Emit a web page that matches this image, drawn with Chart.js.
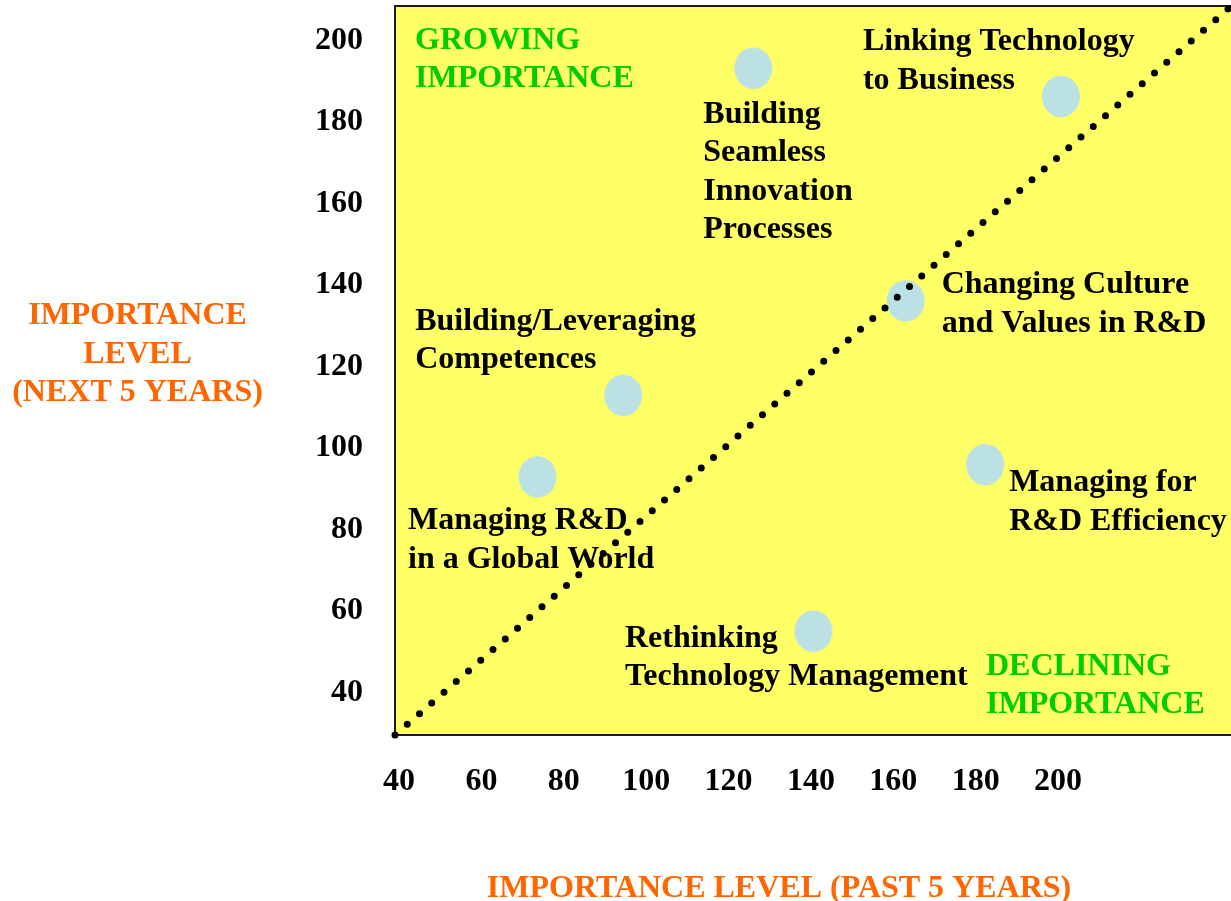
<!DOCTYPE html>
<html lang="en">
<head>
<meta charset="utf-8">
<title>Importance level</title>
<script src="https://cdn.jsdelivr.net/npm/chart.js@4.4.1/dist/chart.umd.min.js"></script>
<style>
    body { margin: 0; background: #ffffff; }
    canvas { display: block; }
</style>
</head>
<body>
<canvas id="graficoImportancia" width="1231" height="901"></canvas>
<script>
// dados
var temas = [
    ["Building", "Seamless", "Innovation", "Processes"],
    ["Linking Technology", "to Business"],
    ["Changing Culture", "and Values in R&D"],
    ["Building/Leveraging", "Competences"],
    ["Managing R&D", "in a Global World"],
    ["Managing for", "R&D Efficiency"],
    ["Rethinking", "Technology Management"]
];
var passado5 = [126.0, 200.7, 163.0, 94.4, 73.6, 182.3, 140.6];
var proximos5 = [193.2, 186.3, 136.1, 112.9, 92.9, 95.9, 55.0];
var ticksX = [40, 60, 80, 100, 120, 140, 160, 180, 200];
var ticksY = [40, 60, 80, 100, 120, 140, 160, 180, 200];
var limitesX = [39, 242];
var limitesY = [29.5, 208.5];
var diagonal = [[39, 29.5], [241.3, 207.8]];
var tituloX = "IMPORTANCE LEVEL (PAST 5 YEARS)";
var tituloY = ["IMPORTANCE", "LEVEL", "(NEXT 5 YEARS)"];
var zonaCrescente = ["GROWING", "IMPORTANCE"];
var zonaDecrescente = ["DECLINING", "IMPORTANCE"];

// onde fica cada rotulo em relacao ao seu ponto (px)
var deslocRotulos = [[-50, 54.5], [-198, -46], [36, -7.5], [-208, -65.5], [-129.5, 52.5], [24, 26.5], [-188.5, 15.5]];

var FONTE = "'Liberation Serif', 'Times New Roman', serif";
var ALTURA_LINHA = 38.5;

Chart.defaults.font.family = FONTE;

function criarElipse() {
    var c = document.createElement("canvas");
    c.width = 40;
    c.height = 44;
    var g = c.getContext("2d");
    g.fillStyle = "#BBE1E4";
    g.beginPath();
    g.ellipse(20, 22, 19, 20.8, 0, 0, Math.PI * 2);
    g.fill();
    return c;
}

function escreverLinhas(ctx, linhas, x, y) {
    for (var i = 0; i < linhas.length; i++) {
        ctx.fillText(linhas[i], x, y + i * ALTURA_LINHA);
    }
}

var pluginFundo = {
    id: "fundo",
    beforeDatasetsDraw: function (chart) {
        var a = chart.chartArea;
        var ctx = chart.ctx;
        ctx.save();
        ctx.fillStyle = "#FFFF66";
        ctx.fillRect(a.left, a.top, a.right - a.left, a.bottom - a.top);
        ctx.strokeStyle = "#1a1a1a";
        ctx.lineWidth = 2;
        ctx.beginPath();
        ctx.moveTo(a.right, a.top);
        ctx.lineTo(a.left, a.top);
        ctx.lineTo(a.left, a.bottom);
        ctx.lineTo(a.right, a.bottom);
        ctx.stroke();
        ctx.restore();
    }
};

var pluginTextos = {
    id: "textos",
    afterDatasetsDraw: function (chart) {
        var a = chart.chartArea;
        var ctx = chart.ctx;
        var pontos = chart.getDatasetMeta(1).data;
        ctx.save();
        ctx.font = "bold 32px " + FONTE;
        ctx.textBaseline = "alphabetic";
        ctx.textAlign = "left";

        ctx.fillStyle = "#000000";
        for (var i = 0; i < pontos.length; i++) {
            escreverLinhas(ctx, temas[i], pontos[i].x + deslocRotulos[i][0], pontos[i].y + deslocRotulos[i][1]);
        }

        ctx.fillStyle = "#00CC00";
        escreverLinhas(ctx, zonaCrescente, a.left + 20, a.top + 42.5);
        escreverLinhas(ctx, zonaDecrescente, a.right - 245, a.bottom - 60.5);

        ctx.fillStyle = "#FF6600";
        ctx.textAlign = "center";
        escreverLinhas(ctx, tituloY, 137.5, 324);
        ctx.fillText(tituloX, 779, 897);
        ctx.restore();
    }
};

function fixarEixo(tamanho) {
    return function (scale) {
        if (scale.isHorizontal()) {
            scale.height = tamanho;
        } else {
            scale.width = tamanho;
        }
        scale.paddingTop = 0;
        scale.paddingBottom = 0;
        scale.paddingLeft = 0;
        scale.paddingRight = 0;
    };
}

function plotarGrafico() {
    var ctx = document.getElementById("graficoImportancia").getContext("2d");

    var pontos = [];
    for (var i = 0; i < passado5.length; i++) {
        pontos.push({ x: passado5[i], y: proximos5[i] });
    }

    new Chart(ctx, {
        data: {
            datasets: [{
                type: "line",
                data: diagonal.map(function (p) { return { x: p[0], y: p[1] }; }),
                borderColor: "#000000",
                borderWidth: 7,
                borderDash: [0, 16.25],
                borderCapStyle: "round",
                pointRadius: 0,
                fill: false,
                clip: false
            }, {
                type: "scatter",
                data: pontos,
                pointStyle: criarElipse(),
                pointRadius: 20
            }]
        },
        options: {
            responsive: false,
            animation: false,
            events: [],
            layout: {
                autoPadding: false,
                padding: { left: 315, top: 6, right: 0, bottom: 66 }
            },
            scales: {
                x: {
                    type: "linear",
                    min: limitesX[0],
                    max: limitesX[1],
                    afterBuildTicks: function (scale) {
                        scale.ticks = ticksX.map(function (v) { return { value: v }; });
                    },
                    afterFit: fixarEixo(100),
                    grid: { display: false, drawTicks: false },
                    border: { display: false },
                    ticks: {
                        padding: 28,
                        maxRotation: 0,
                        color: "#000000",
                        font: { size: 32, weight: "bold" }
                    }
                },
                y: {
                    type: "linear",
                    min: limitesY[0],
                    max: limitesY[1],
                    afterBuildTicks: function (scale) {
                        scale.ticks = ticksY.map(function (v) { return { value: v }; });
                    },
                    afterFit: fixarEixo(80),
                    grid: { display: false, drawTicks: false },
                    border: { display: false },
                    ticks: {
                        padding: 32,
                        color: "#000000",
                        font: { size: 32, weight: "bold" }
                    }
                }
            },
            plugins: {
                legend: { display: false },
                tooltip: { enabled: false }
            }
        },
        plugins: [pluginFundo, pluginTextos]
    });
}

plotarGrafico();
</script>
</body>
</html>
